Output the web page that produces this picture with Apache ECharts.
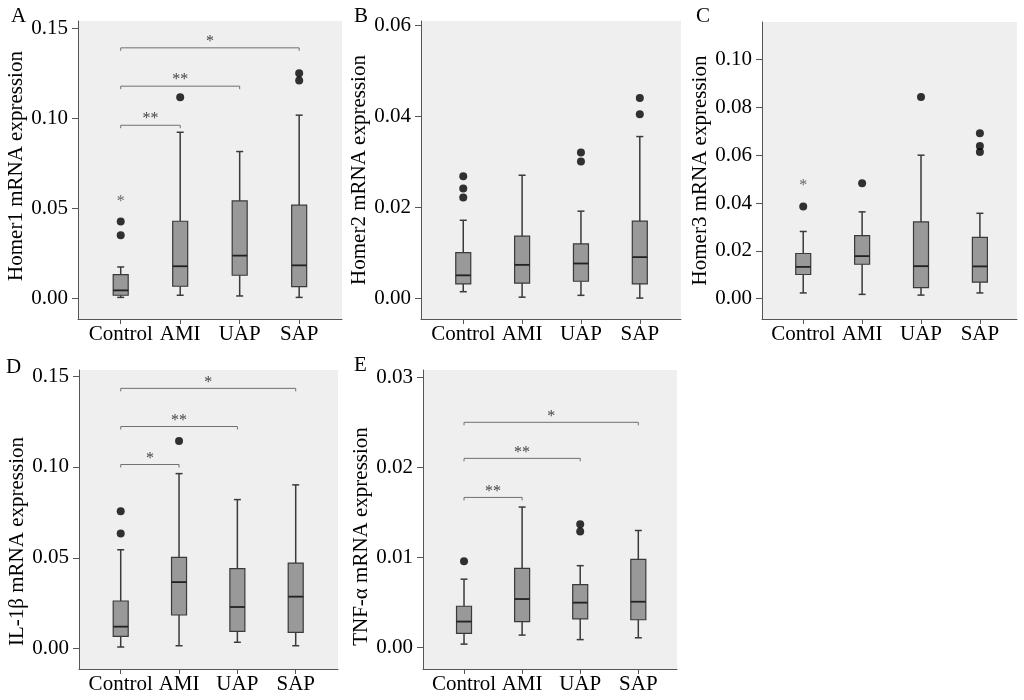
<!DOCTYPE html>
<html>
<head>
<meta charset="utf-8">
<script src="https://cdn.jsdelivr.net/npm/echarts@6/dist/echarts.min.js"></script>
<style>
html,body{margin:0;padding:0;background:#fff;}
#chart{width:1024px;height:700px;}
</style>
</head>
<body>
<div id="chart"></div>
<script>
// ---------- DATA ----------
const categories = ['Control', 'AMI', 'UAP', 'SAP'];

// box rows: [min, Q1, median, Q3, max] per category
const homer1Box = [[0.0007,0.0019,0.0046,0.0133,0.0176],[0.0019,0.0069,0.0180,0.0430,0.0924],[0.0015,0.0130,0.0239,0.0543,0.0817],[0.0007,0.0067,0.0185,0.0519,0.1019]];
const homer1Outliers = [[1,0.0352],[1,0.0428],[2,0.1119],[4,0.1211],[4,0.1252]];
const homer1Extremes = [[1,0.0556]];
const homer1Sig = [[1,2,0.0963],[1,3,0.1180],[1,4,0.1393]];
const homer1SigText = ['**','**','*'];
const homer1Ticks = [0, 0.05, 0.10, 0.15];

const homer2Box = [[0.0015,0.0032,0.0051,0.0101,0.0172],[0.0003,0.0034,0.0074,0.0137,0.0271],[0.0007,0.0038,0.0077,0.0120,0.0192],[0.0001,0.0032,0.0091,0.0170,0.0356]];
const homer2Outliers = [[1,0.0222],[1,0.0242],[1,0.0269],[3,0.0301],[3,0.0321],[4,0.0405],[4,0.0441]];
const homer2Extremes = [];
const homer2Sig = [];
const homer2SigText = [];
const homer2Ticks = [0, 0.02, 0.04, 0.06];

const homer3Box = [[0.0024,0.0101,0.0133,0.0189,0.0281],[0.0018,0.0144,0.0178,0.0264,0.0363],[0.0015,0.0046,0.0136,0.0321,0.0600],[0.0024,0.0069,0.0135,0.0256,0.0357]];
const homer3Outliers = [[1,0.0385],[2,0.0483],[3,0.0843],[4,0.0613],[4,0.0638],[4,0.0692]];
const homer3Extremes = [[1,0.0485]];
const homer3Sig = [];
const homer3SigText = [];
const homer3Ticks = [0, 0.02, 0.04, 0.06, 0.08, 0.10];

const il1bBox = [[0.0009,0.0068,0.0121,0.0262,0.0544],[0.0016,0.0185,0.0366,0.0502,0.0963],[0.0035,0.0095,0.0229,0.0440,0.0820],[0.0016,0.0090,0.0286,0.0471,0.0901]];
const il1bOutliers = [[1,0.0634],[1,0.0756],[2,0.1143]];
const il1bExtremes = [];
const il1bSig = [[1,2,0.1013],[1,3,0.1222],[1,4,0.1432]];
const il1bSigText = ['*','**','*'];
const il1bTicks = [0, 0.05, 0.10, 0.15];

const tnfBox = [[0.0004,0.0016,0.0029,0.0046,0.0076],[0.0014,0.0029,0.0054,0.0088,0.0156],[0.0009,0.0032,0.0050,0.0070,0.0091],[0.0011,0.0031,0.0051,0.0098,0.0130]];
const tnfOutliers = [[1,0.0096],[3,0.0129],[3,0.0137]];
const tnfExtremes = [];
const tnfSig = [[1,2,0.01667],[1,3,0.0210],[1,4,0.0250]];
const tnfSigText = ['**','**','*'];
const tnfTicks = [0, 0.01, 0.02, 0.03];

const panelLetters = ['A','B','C','D','E'];
const yTitles = ['Homer1 mRNA expression','Homer2 mRNA expression','Homer3 mRNA expression','IL-1β mRNA expression','TNF-α mRNA expression'];

// ---------- LAYOUT / STYLE ----------
const FONT = "'Liberation Serif', 'Times New Roman', serif";
const panels = [
  {box: homer1Box, out: homer1Outliers, ext: homer1Extremes, sig: homer1Sig, sigText: homer1SigText, ticks: homer1Ticks,
   grid: {left: 78, top: 21, width: 264, height: 298}, x: [0.282, 4.72], y: [-0.0113, 0.1542], namePad: [0,0,0,8], letter: [11, 6]},
  {box: homer2Box, out: homer2Outliers, ext: homer2Extremes, sig: homer2Sig, sigText: homer2SigText, ticks: homer2Ticks,
   grid: {left: 421, top: 21, width: 260, height: 298}, x: [0.282, 4.70], y: [-0.0045, 0.0610], namePad: [0,0,0,0], letter: [354, 6]},
  {box: homer3Box, out: homer3Outliers, ext: homer3Extremes, sig: homer3Sig, sigText: homer3SigText, ticks: homer3Ticks,
   grid: {left: 762, top: 22, width: 255, height: 297}, x: [0.30, 4.63], y: [-0.0085, 0.1157], namePad: [0,0,0,0], letter: [696, 6]},
  {box: il1bBox, out: il1bOutliers, ext: il1bExtremes, sig: il1bSig, sigText: il1bSigText, ticks: il1bTicks,
   grid: {left: 79, top: 370, width: 259, height: 299}, x: [0.285, 4.725], y: [-0.0112, 0.1533], namePad: [0,44,0,0], letter: [6, 357]},
  {box: tnfBox, out: tnfOutliers, ext: tnfExtremes, sig: tnfSig, sigText: tnfSigText, ticks: tnfTicks,
   grid: {left: 423, top: 370, width: 254, height: 299}, x: [0.294, 4.666], y: [-0.00236, 0.0308], namePad: [0,34,0,0], letter: [354, 355]}
];

const BOX_FILL = '#999999';
const DARK = '#3a3a3a';
const AXIS_COLOR = '#555555';
const STAR_COLOR = '#444444';

function makeBoxRenderer() {
  return function (params, api) {
    const x = api.value(0);
    const pMin = api.coord([x, api.value(1)]);
    const pQ1 = api.coord([x, api.value(2)]);
    const pMd = api.coord([x, api.value(3)]);
    const pQ3 = api.coord([x, api.value(4)]);
    const pMax = api.coord([x, api.value(5)]);
    const cx = pMin[0];
    const hw = 7.5, cw = 3.5;
    const ls = {stroke: DARK, lineWidth: 1.5};
    return {type: 'group', children: [
      {type: 'line', shape: {x1: cx, y1: pMin[1], x2: cx, y2: pQ1[1]}, style: ls},
      {type: 'line', shape: {x1: cx, y1: pQ3[1], x2: cx, y2: pMax[1]}, style: ls},
      {type: 'line', shape: {x1: cx - cw, y1: pMin[1], x2: cx + cw, y2: pMin[1]}, style: ls},
      {type: 'line', shape: {x1: cx - cw, y1: pMax[1], x2: cx + cw, y2: pMax[1]}, style: ls},
      {type: 'rect', shape: {x: cx - hw, y: pQ3[1], width: hw * 2, height: pQ1[1] - pQ3[1]}, style: {fill: BOX_FILL, stroke: DARK, lineWidth: 1.2}},
      {type: 'line', shape: {x1: cx - hw, y1: pMd[1], x2: cx + hw, y2: pMd[1]}, style: {stroke: '#222', lineWidth: 1.8}}
    ]};
  };
}

function makeSigRenderer(texts) {
  return function (params, api) {
    const y = api.value(2);
    const p1 = api.coord([api.value(0), y]);
    const p2 = api.coord([api.value(1), y]);
    return {type: 'group', children: [
      {type: 'polyline', shape: {points: [[p1[0], p1[1] + 3], [p1[0], p1[1]], [p2[0], p2[1]], [p2[0], p2[1] + 3]]},
       style: {stroke: '#707070', lineWidth: 1, fill: null}},
      {type: 'text', style: {text: texts[params.dataIndex], x: (p1[0] + p2[0]) / 2, y: p1[1] - 6,
        align: 'center', verticalAlign: 'middle', font: '16px ' + FONT, fill: STAR_COLOR}}
    ]};
  };
}

const grids = [], xAxes = [], yAxes = [], series = [], graphics = [];
panels.forEach((p, i) => {
  grids.push(Object.assign({show: true, backgroundColor: '#efefef', borderWidth: 0, outerBoundsMode: 'none'}, p.grid));
  xAxes.push({
    gridIndex: i, type: 'value', min: p.x[0], max: p.x[1],
    axisLine: {show: true, onZero: false, lineStyle: {color: AXIS_COLOR, width: 1}},
    axisTick: {show: true, customValues: [1, 2, 3, 4], length: 5, lineStyle: {color: AXIS_COLOR}},
    axisLabel: {show: true, customValues: [1, 2, 3, 4], formatter: v => categories[Math.round(v) - 1] || '',
      fontFamily: FONT, fontSize: 21, color: '#000', margin: 5},
    splitLine: {show: false}
  });
  yAxes.push({
    gridIndex: i, type: 'value', min: p.y[0], max: p.y[1],
    name: yTitles[i], nameLocation: 'middle', nameGap: 47,
    nameTextStyle: {fontFamily: FONT, fontSize: 21, color: '#000', padding: p.namePad},
    axisLine: {show: true, lineStyle: {color: AXIS_COLOR, width: 1}},
    axisTick: {show: true, customValues: p.ticks, length: 6, lineStyle: {color: AXIS_COLOR}},
    axisLabel: {show: true, customValues: p.ticks, formatter: v => v.toFixed(2),
      fontFamily: FONT, fontSize: 21, color: '#000', margin: 10},
    splitLine: {show: false}
  });
  series.push({
    type: 'custom', xAxisIndex: i, yAxisIndex: i,
    data: p.box.map((b, k) => [k + 1].concat(b)),
    renderItem: makeBoxRenderer(), silent: true
  });
  series.push({
    type: 'scatter', xAxisIndex: i, yAxisIndex: i, data: p.out,
    symbol: 'circle', symbolSize: 8, itemStyle: {color: '#000'}, silent: true
  });
  if (p.ext.length) {
    series.push({
      type: 'scatter', xAxisIndex: i, yAxisIndex: i, data: p.ext,
      symbol: 'circle', symbolSize: 1, itemStyle: {color: 'rgba(0,0,0,0)'}, silent: true,
      label: {show: true, position: 'inside', formatter: '*', fontFamily: FONT, fontSize: 16, color: STAR_COLOR, offset: [0, 3]}
    });
  }
  if (p.sig.length) {
    series.push({
      type: 'custom', xAxisIndex: i, yAxisIndex: i, data: p.sig,
      renderItem: makeSigRenderer(p.sigText), silent: true
    });
  }
  graphics.push({type: 'text', left: p.letter[0], top: p.letter[1],
    style: {text: panelLetters[i], font: '21px ' + FONT, fill: '#000'}});
});

const chart = echarts.init(document.getElementById('chart'), null, {renderer: 'canvas'});
chart.setOption({
  animation: false,
  backgroundColor: '#fff',
  grid: grids, xAxis: xAxes, yAxis: yAxes, series: series, graphic: graphics
});
</script>
</body>
</html>
